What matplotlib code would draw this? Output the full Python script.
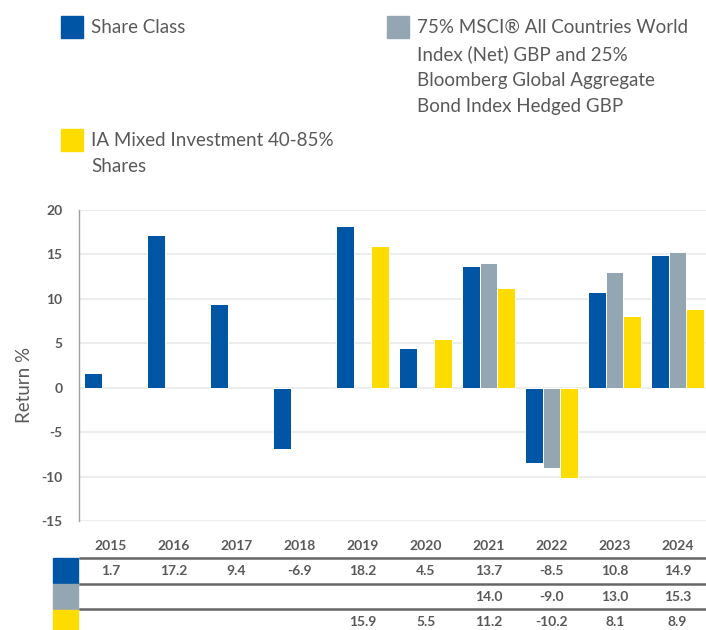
import numpy as np
import matplotlib
matplotlib.use("Agg")
import matplotlib.pyplot as plt
from matplotlib.patches import Rectangle
from matplotlib.lines import Line2D
import matplotlib.transforms as mtransforms

plt.rcParams['font.family'] = ['Lato', 'DejaVu Sans']

years = ['2015', '2016', '2017', '2018', '2019', '2020', '2021', '2022', '2023', '2024']
share_class = [1.7, 17.2, 9.4, -6.9, 18.2, 4.5, 13.7, -8.5, 10.8, 14.9]
index_vals = [np.nan] * 6 + [14.0, -9.0, 13.0, 15.3]
sector_vals = [np.nan] * 4 + [15.9, 5.5, 11.2, -10.2, 8.1, 8.9]

series_names = [
    'Share Class',
    '75% MSCI® All Countries World\nIndex (Net) GBP and 25%\nBloomberg Global Aggregate\nBond Index Hedged GBP',
    'IA Mixed Investment 40-85%\nShares',
]
colors = ['#0055A4', '#94A6B2', '#FFDC00']
yticks = [-15, -10, -5, 0, 5, 10, 15, 20]

W, H = 706, 630
fig = plt.figure(figsize=(W / 100, H / 100), dpi=100)
TXT = '#595959'

def fx(x):
    return x / W

def fy(y):
    return 1 - y / H

ax_l, ax_r, ax_t, ax_b = 79, 706, 210, 521
ax = fig.add_axes([fx(ax_l), fy(ax_b), fx(ax_r - ax_l), (ax_b - ax_t) / H])

data = [share_class, index_vals, sector_vals]
x = np.arange(len(years))
bw = 0.28
for i, (vals, c) in enumerate(zip(data, colors)):
    ax.bar(x + (i - 1) * bw, vals, width=bw, color=c, edgecolor='white',
           linewidth=0.7, zorder=3)

ax.set_xlim(-0.5, 9.45)
ax.set_ylim(-15, 20)
ax.set_yticks(yticks)
ax.set_yticklabels([str(t) for t in yticks], fontsize=10, fontweight='bold', color=TXT)
ax.tick_params(axis='y', length=0, pad=12)
ax.set_xticks([])
ax.grid(axis='y', color='#EDEDED', linewidth=1.5, zorder=0)
for s in ['top', 'right', 'bottom']:
    ax.spines[s].set_visible(False)
ax.spines['left'].set_color('#A0A0A0')
ax.spines['left'].set_linewidth(1.0)
ax.set_ylabel('Return %', fontsize=13.5, color=TXT)
ax.yaxis.set_label_coords((33 - ax_l) / (ax_r - ax_l), (ax_b - 385) / (ax_b - ax_t))

# Legend (manual)
leg_pos = [(61, 16), (387, 16), (61, 129)]
for (lx, ly), name, c in zip(leg_pos, series_names, colors):
    fig.patches.append(Rectangle((fx(lx), fy(ly + 22)), 22 / W, 22 / H,
                                 transform=fig.transFigure, color=c))
    fig.text(fx(lx + 30), fy(ly + 3), name, fontsize=13.5, color=TXT,
             va='top', ha='left', linespacing=1.62)

# Table below
trans = mtransforms.blended_transform_factory(ax.transData, fig.transFigure)
for xi, yr in zip(x, years):
    ax.text(xi, fy(546), yr, transform=trans, ha='center', va='center',
            fontsize=10, fontweight='bold', color=TXT, clip_on=False)

row_y = [571, 597, 622]
for ry, vals in zip(row_y, data):
    for xi, v in zip(x, vals):
        if not np.isnan(v):
            ax.text(xi, fy(ry), f'{v:.1f}', transform=trans, ha='center', va='center',
                    fontsize=10, fontweight='bold', color=TXT, clip_on=False)

for ly in [558, 583.5, 609]:
    fig.lines.append(Line2D([fx(80), 1.0], [fy(ly), fy(ly)], transform=fig.transFigure,
                            color='#666666', linewidth=1.8))

sq_rows = [(558, 583), (584, 609), (610, 631)]
for (y0, y1), c in zip(sq_rows, colors):
    fig.patches.append(Rectangle((fx(53), fy(y1)), 25 / W, (y1 - y0) / H,
                                 transform=fig.transFigure, color=c))

fig.savefig('out.png', dpi=100)
